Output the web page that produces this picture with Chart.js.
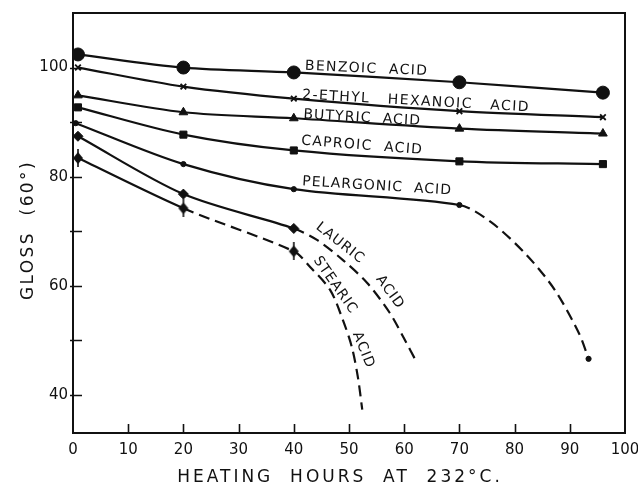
<!DOCTYPE html>
<html>
<head>
<meta charset="utf-8">
<script src="https://cdn.jsdelivr.net/npm/chart.js@4.4.1/dist/chart.umd.min.js"></script>
<style>
  html, body { margin: 0; padding: 0; background: #fff; }
  #wrap { width: 638px; height: 487px; }
</style>
</head>
<body>
<div id="wrap"><canvas id="c" width="638" height="487"></canvas></div>
<script>
// Gloss (60°) of films versus heating hours at 232 °C, one curve per acid.
const hours = [0.9, 20, 40, 70, 96];
const benzoic = [102.4, 100.0, 99.1, 97.3, 95.4];
const ethylHexanoic = [100.0, 96.5, 94.3, 92.0, 90.9];
const butyric = [94.9, 91.8, 90.7, 88.8, 87.9];
const caproic = [92.7, 87.7, 84.8, 82.8, 82.3];

const pelargonicHours = [0.5, 20, 40, 70, 75.8, 82.2, 87.3, 91.7, 93.4];
const pelargonic = [89.8, 82.3, 77.7, 74.8, 71.6, 65.6, 59.2, 51.2, 46.6];

const lauricHours = [0.9, 20, 40, 44.2, 48.9, 53.3, 57.4, 60.1, 62.3];
const lauric = [87.4, 76.8, 70.5, 68.4, 64.7, 60.5, 55.0, 50.1, 45.9];

const stearicHours = [0.9, 20, 40, 43.0, 46.6, 48.9, 50.5, 51.6, 52.4];
const stearic = [83.4, 74.2, 66.3, 63.4, 59.2, 53.7, 48.8, 43.3, 37.3];

const xTicks = [0, 10, 20, 30, 40, 50, 60, 70, 80, 90, 100];
const yTickLabels = [40, 60, 80, 100];
const yTicks = [40, 50, 60, 70, 80, 90, 100];

const INK = '#111';
const DASH = [11, 6];

function pts(xs, ys) { return xs.map((x, i) => ({ x: x, y: ys[i] })); }

// diamond with a short vertical bar through it
function stearicMarker() {
  const cv = document.createElement('canvas');
  cv.width = 12; cv.height = 18;
  const g = cv.getContext('2d');
  g.fillStyle = INK;
  g.beginPath();
  g.moveTo(6, 3); g.lineTo(11, 9); g.lineTo(6, 15); g.lineTo(1, 9); g.closePath();
  g.fill();
  g.fillRect(5.2, 0, 1.6, 18);
  return cv;
}

function series(label, xs, ys, style, radius, dashFrom, markerCount, extra) {
  const radii = xs.map((_, i) => (i < markerCount || (extra && i === xs.length - 1)) ? radius : 0);
  return {
    label: label,
    data: pts(xs, ys),
    borderColor: INK,
    backgroundColor: INK,
    borderWidth: 2.2,
    pointStyle: style,
    pointRadius: radii,
    pointBorderWidth: style === 'crossRot' ? 1.8 : 1,
    pointBorderColor: INK,
    pointBackgroundColor: INK,
    tension: 0.3,
    segment: {
      borderDash: ctx => (dashFrom !== null && ctx.p0DataIndex >= dashFrom) ? DASH : undefined
    }
  };
}

const datasets = [
  series('BENZOIC ACID', hours, benzoic, 'circle', 6.5, null, 5),
  series('2-ETHYL HEXANOIC ACID', hours, ethylHexanoic, 'crossRot', 4, null, 5),
  series('BUTYRIC ACID', hours, butyric, 'triangle', 5, null, 5),
  series('CAPROIC ACID', hours, caproic, 'rect', 5, null, 5),
  series('PELARGONIC ACID', pelargonicHours, pelargonic, 'circle', 2.6, 3, 4, true),
  series('LAURIC ACID', lauricHours, lauric, 'rectRot', 5, 2, 3),
  series('STEARIC ACID', stearicHours, stearic, stearicMarker(), 6, 1, 3)
];

// curve labels: anchor in data units, rotation in degrees
const curveLabels = [
  { text: 'BENZOIC  ACID', x: 42.0, y: 99.6, rot: 2.5, align: 'left', sp: 1.3 },
  { text: '2-ETHYL   HEXANOIC   ACID', x: 41.5, y: 94.3, rot: 3.2, align: 'left', sp: 1.4 },
  { text: 'BUTYRIC  ACID', x: 41.7, y: 90.7, rot: 3.3, align: 'left', sp: 1.1 },
  { text: 'CAPROIC  ACID', x: 41.3, y: 85.9, rot: 4.5, align: 'left', sp: 1.3 },
  { text: 'PELARGONIC  ACID', x: 41.5, y: 78.4, rot: 3.5, align: 'left', sp: 1 },
  { text: 'LAURIC', x: 48.4, y: 67.8, rot: 38, align: 'center', sp: 1 },
  { text: 'ACID', x: 57.4, y: 58.8, rot: 54, align: 'center', sp: 1 },
  { text: 'STEARIC', x: 47.5, y: 60.1, rot: 55, align: 'center', sp: 1 },
  { text: 'ACID', x: 52.6, y: 48.2, rot: 68, align: 'center', sp: 1 }
];

const FONT = '"DejaVu Sans", sans-serif';

const framePlugin = {
  id: 'frame',
  beforeDatasetsDraw(chart) {
    const { ctx, chartArea: a, scales: { x, y } } = chart;
    ctx.save();
    ctx.strokeStyle = INK;
    ctx.lineWidth = 2;
    ctx.strokeRect(a.left, a.top, a.right - a.left, a.bottom - a.top);
    ctx.lineWidth = 1.6;
    ctx.beginPath();
    xTicks.slice(1, -1).forEach(v => {
      const px = Math.round(x.getPixelForValue(v)) + 0.5;
      ctx.moveTo(px, a.bottom); ctx.lineTo(px, a.bottom - 9);
    });
    yTicks.forEach(v => {
      const py = Math.round(y.getPixelForValue(v)) + 0.5;
      ctx.moveTo(a.left - 3, py); ctx.lineTo(a.left + 9, py);
    });
    ctx.stroke();
    ctx.restore();
  },
  afterDatasetsDraw(chart) {
    const { ctx, scales: { x, y } } = chart;
    ctx.save();
    ctx.fillStyle = INK;
    ctx.font = '14px ' + FONT;
    curveLabels.forEach(l => {
      ctx.save();
      ctx.letterSpacing = l.sp + 'px';
      ctx.translate(x.getPixelForValue(l.x), y.getPixelForValue(l.y));
      ctx.rotate(l.rot * Math.PI / 180);
      ctx.textAlign = l.align;
      ctx.textBaseline = l.align === 'left' ? 'alphabetic' : 'middle';
      ctx.fillText(l.text, 0, 0);
      ctx.restore();
    });
    // axis titles
    ctx.font = '17px ' + FONT;
    ctx.letterSpacing = '3px';
    ctx.textAlign = 'center';
    ctx.textBaseline = 'middle';
    ctx.fillText('HEATING  HOURS  AT  232°C.', 340, 478);
    ctx.letterSpacing = '2.4px';
    ctx.save();
    ctx.translate(29, 230);
    ctx.rotate(-Math.PI / 2);
    ctx.fillText('GLOSS  (60°)', 0, 0);
    ctx.restore();
    ctx.restore();
  }
};

new Chart(document.getElementById('c'), {
  type: 'line',
  data: { datasets: datasets },
  options: {
    responsive: false,
    animation: false,
    devicePixelRatio: 1,
    layout: { padding: { top: 13, right: 13, left: 0, bottom: 0 } },
    plugins: { legend: { display: false }, tooltip: { enabled: false } },
    scales: {
      x: {
        type: 'linear',
        min: 0, max: 100,
        grid: { display: false, drawTicks: false },
        border: { display: false },
        afterFit(s) { s.height = 54; s.paddingLeft = 0; s.paddingRight = 0; },
        afterBuildTicks(s) { s.ticks = xTicks.map(v => ({ value: v })); },
        ticks: {
          color: INK, padding: 8,
          font: { family: FONT, size: 15 },
          maxRotation: 0, autoSkip: false
        }
      },
      y: {
        type: 'linear',
        min: 33, max: 110,
        grid: { display: false, drawTicks: false },
        border: { display: false },
        afterFit(s) { s.width = 73; s.paddingTop = 0; s.paddingBottom = 0; },
        afterBuildTicks(s) { s.ticks = yTickLabels.map(v => ({ value: v })); },
        ticks: {
          color: INK, padding: 5,
          font: { family: FONT, size: 15 }
        }
      }
    }
  },
  plugins: [framePlugin]
});
</script>
</body>
</html>
